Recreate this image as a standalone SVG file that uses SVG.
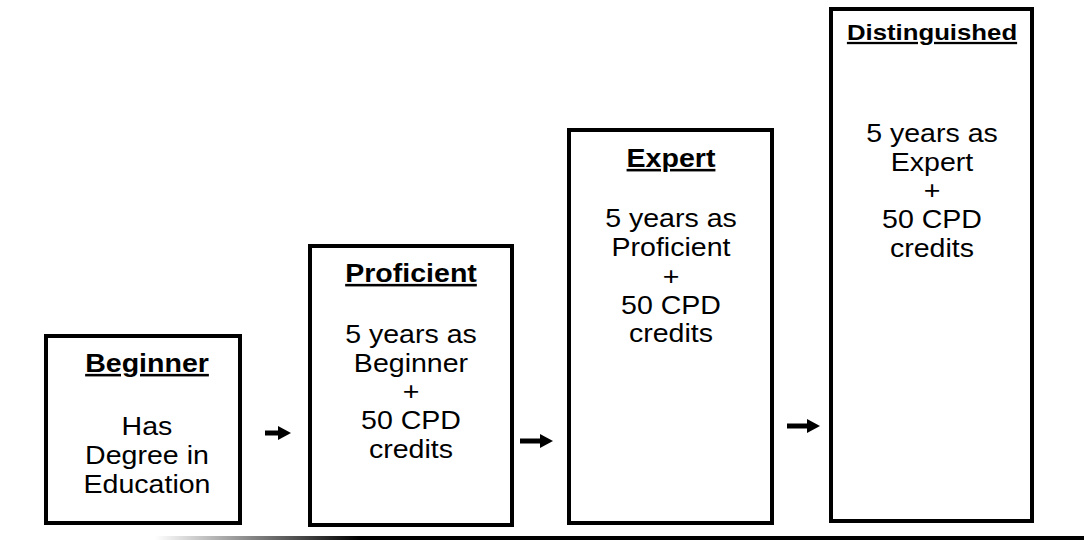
<svg xmlns="http://www.w3.org/2000/svg" width="1084" height="540" viewBox="0 0 1084 540">
  <style>
    .box { fill: #ffffff; stroke: #000000; stroke-width: 4; }
    .t { font-family: "Liberation Sans", Arial, sans-serif; font-size: 25.5px; fill: #000; text-anchor: middle; }
    .h { font-weight: bold; text-decoration: underline; }
    .conn { stroke: #000; stroke-width: 5; fill: none; marker-end: url(#ah); }
  </style>
  <defs>
    <marker id="ah" markerUnits="userSpaceOnUse" markerWidth="13" markerHeight="14" refX="0" refY="7" orient="auto">
      <path d="M0,0 L13,7 L0,14 Z" fill="#000"/>
    </marker>
    <linearGradient id="baseGrad" x1="155" y1="0" x2="1084" y2="0" gradientUnits="userSpaceOnUse">
      <stop offset="0" stop-color="#ffffff"/>
      <stop offset="0.22" stop-color="#000000"/>
      <stop offset="1" stop-color="#000000"/>
    </linearGradient>
  </defs>
  <rect width="1084" height="540" fill="#ffffff"/>
  <rect x="155" y="536" width="929" height="4" fill="url(#baseGrad)"/>

  <g id="beginner">
    <rect class="box" x="46" y="336" width="194" height="187"/>
    <g transform="translate(147 0) scale(1.12 1)">
      <text class="t h" x="0" y="372">Beginner</text>
      <text class="t" x="0" y="435">Has</text>
      <text class="t" x="0" y="464">Degree in</text>
      <text class="t" x="0" y="493">Education</text>
    </g>
  </g>

  <g id="proficient">
    <rect class="box" x="310" y="246" width="202" height="279"/>
    <g transform="translate(411 0) scale(1.12 1)">
      <text class="t h" x="0" y="282">Proficient</text>
      <text class="t" x="0" y="343">5 years as</text>
      <text class="t" x="0" y="372">Beginner</text>
      <text class="t" x="0" y="400">+</text>
      <text class="t" x="0" y="429">50 CPD</text>
      <text class="t" x="0" y="458">credits</text>
    </g>
  </g>

  <g id="expert">
    <rect class="box" x="569" y="130" width="203" height="393"/>
    <g transform="translate(671 0) scale(1.12 1)">
      <text class="t h" x="0" y="167">Expert</text>
      <text class="t" x="0" y="227">5 years as</text>
      <text class="t" x="0" y="256">Proficient</text>
      <text class="t" x="0" y="285">+</text>
      <text class="t" x="0" y="314">50 CPD</text>
      <text class="t" x="0" y="342">credits</text>
    </g>
  </g>

  <g id="distinguished">
    <rect class="box" x="831" y="9" width="201" height="512"/>
    <g transform="translate(932 0) scale(1.12 1)">
      <text class="t h" x="0" y="40" style="font-size:23px">Distinguished</text>
      <text class="t" x="0" y="142">5 years as</text>
      <text class="t" x="0" y="171">Expert</text>
      <text class="t" x="0" y="199">+</text>
      <text class="t" x="0" y="228">50 CPD</text>
      <text class="t" x="0" y="257">credits</text>
    </g>
  </g>

  <g id="connectors">
    <line class="conn" x1="265" y1="433" x2="278" y2="433"/>
    <line class="conn" x1="520" y1="441" x2="540" y2="441"/>
    <line class="conn" x1="787" y1="426" x2="807" y2="426"/>
  </g>
</svg>
